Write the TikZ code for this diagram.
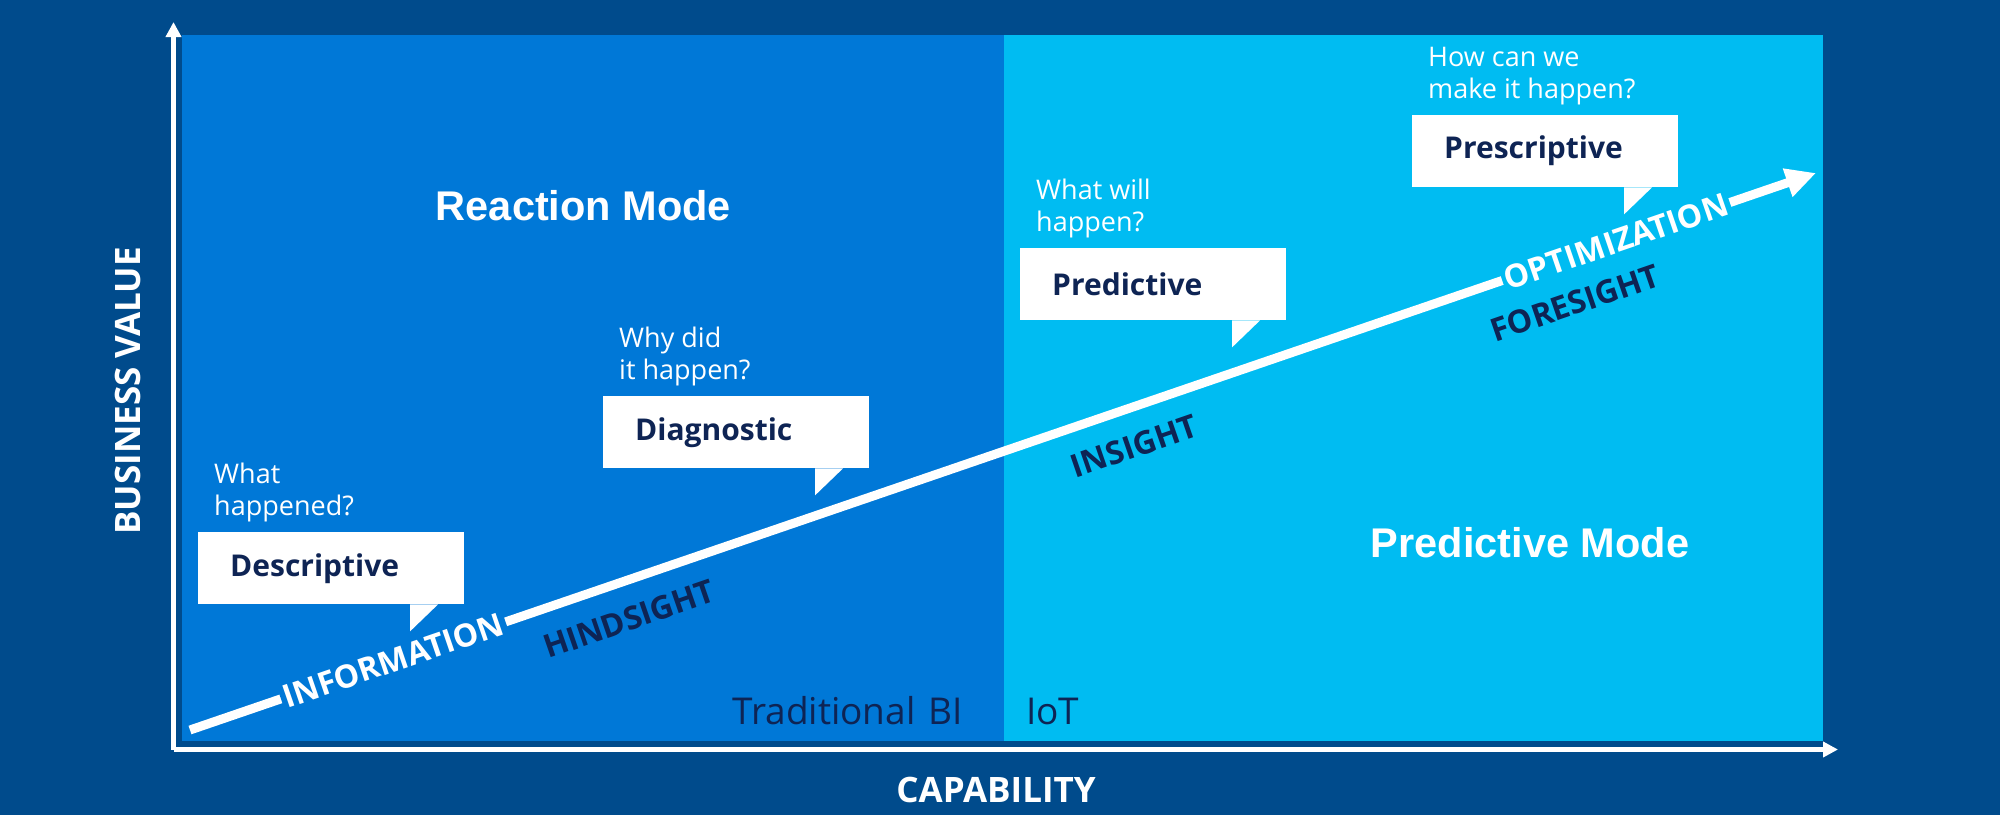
\documentclass[tikz,border=0pt]{standalone}
\usepackage{fontspec}
\setmainfont{Open Sans}
\newfontfamily\modefont{Liberation Sans}
\usetikzlibrary{arrows.meta, positioning}
\definecolor{bgDark}{HTML}{004B8C}
\definecolor{panelReact}{HTML}{0078D7}
\definecolor{panelPred}{HTML}{00BCF2}
\definecolor{navy}{HTML}{0E2454}

\begin{document}
\begin{tikzpicture}[
  x=1pt, y=-1pt,                                % one unit = one pixel of the 2000 x 836 slide
  axis/.style={-{Triangle[length=15pt, width=15pt]}, draw=white, line width=4.5pt},
  growth/.style={-{Triangle[length=30pt, width=28pt]}, draw=white, line width=9pt},
  modetitle/.style={anchor=base, text=white, inner sep=0pt,
                    font=\modefont\bfseries\fontsize{41.5}{46}\selectfont},
  bubble/.style={rectangle, fill=white, anchor=north west, text=navy, align=left,
                 text width=202pt, inner xsep=32pt, inner ysep=0pt, minimum height=72pt,
                 font=\fontsize{30}{34}\bfseries\selectfont},
  question/.style={text=white, align=left, inner sep=0pt,
                   font=\fontsize{27}{32}\selectfont},
  onarrow/.style={sloped, text=white, inner xsep=3pt, inner ysep=1pt,
                  font=\fontsize{32}{36}\bfseries\selectfont},
  sight/.style={rotate=19, text=navy, inner sep=0pt,
                font=\fontsize{32}{36}\bfseries\selectfont},
  era/.style={text=navy, inner sep=0pt, font=\fontsize{37}{42}\selectfont},
  axislabel/.style={text=white, inner sep=0pt, font=\fontsize{35}{40}\bfseries\selectfont}
]
  \useasboundingbox (0,0) rectangle (2000,836);

  % --- slide background and the two mode panels ---
  \fill[bgDark] (0,0) rectangle (2000,815);
  \fill[white] (0,815) rectangle (2000,836);
  \fill[panelReact] (182,35) rectangle (1004,741);
  \fill[panelPred]  (1004,35) rectangle (1823,741);

  % --- axes ---
  \coordinate (axorigin) at (173.5,749.5);
  \coordinate (axtop)    at (173.5,22);
  \coordinate (axright)  at (1838,749.5);
  \draw[axis] (axorigin) -- (axtop);
  \draw[axis] (axorigin) -- (axright);
  \node[axislabel, anchor=base] (caplabel) at (996,802) {CAPABILITY};
  \node[axislabel, rotate=90] (bvlabel) at (128,391) {BUSINESS VALUE};

  % --- mode titles and eras ---
  \node[modetitle] (reaction) at (583.5,220) {Reaction Mode};
  \node[modetitle] (predmode) at (1530,557) {Predictive Mode};
  \node[era, anchor=base east] (tradbi) at (963,724) {Traditional\hspace{13pt}BI};
  \node[era, anchor=base west] (iot)    at (1026,724) {IoT};

  % --- growth arrow with its stage words ---
  \coordinate (start) at (190,730);
  \coordinate (goal)  at (1816,173);
  \draw[growth] (start) -- node[onarrow, pos=0.125, fill=panelReact] (info) {INFORMATION}
                           node[onarrow, pos=0.877, fill=panelPred]  (optim) {OPTIMIZATION} (goal);
  \node[sight] (hind) at (629,619)  {HINDSIGHT};
  \node[sight] (ins)  at (1134,446) {INSIGHT};
  \node[sight] (fore) at (1575,303) {FORESIGHT};

  % --- speech bubbles: box, tail, question above ---
  \node[bubble] (desc)  at (198,532)  {Descriptive};
  \node[bubble] (diag)  at (603,396)  {Diagnostic};
  \node[bubble] (pred)  at (1020,248) {Predictive};
  \node[bubble] (presc) at (1412,115) {Prescriptive};
  \foreach \b in {desc, diag, pred, presc}
    \fill[white] ([xshift=212pt]\b.south west) -- ++(28pt,0) -- ++(-28pt,-27pt) -- cycle;

  \node[question, above right=10pt and 16pt of desc.north west]  (qdesc)  {What\\happened?};
  \node[question, above right=10pt and 16pt of diag.north west]  (qdiag)  {Why did\\it happen?};
  \node[question, above right=10pt and 16pt of pred.north west]  (qpred)  {What will\\happen?};
  \node[question, above right=10pt and 16pt of presc.north west] (qpresc) {How can we\\make it happen?};

\end{tikzpicture}
\end{document}
